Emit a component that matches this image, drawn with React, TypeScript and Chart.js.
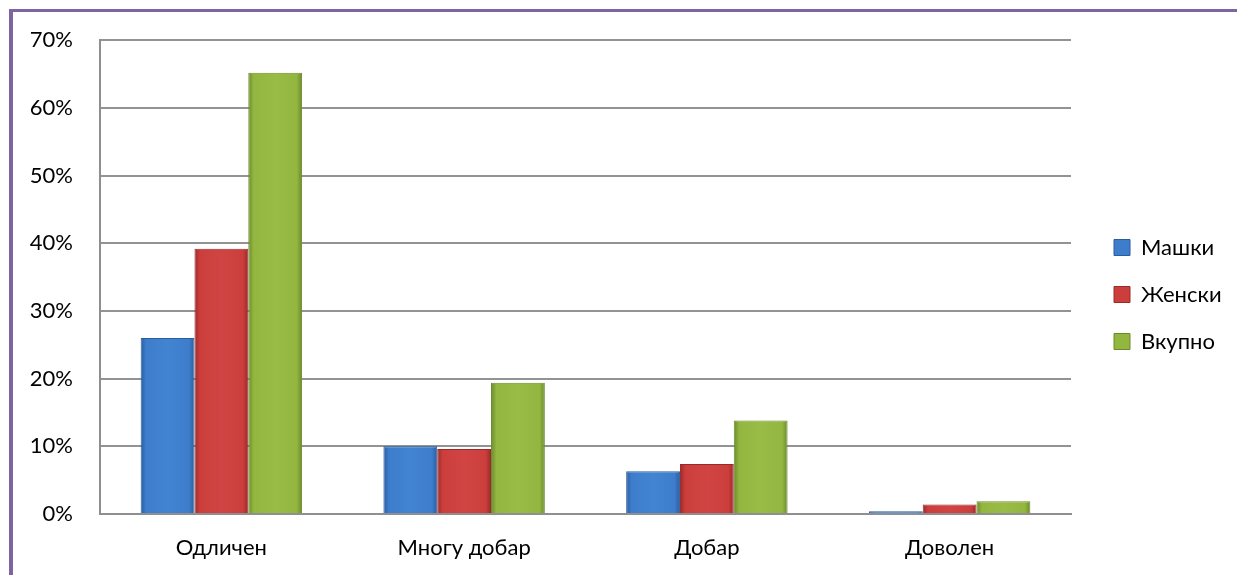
import React, { useEffect, useRef } from "react";
import { Chart, registerables } from "chart.js";

Chart.register(...registerables);

const categories = ["Одличен", "Многу добар", "Добар", "Доволен"];
const seriesNames = ["Машки", "Женски", "Вкупно"];
const maleValues = [26.0, 10.0, 6.3, 0.4];
const femaleValues = [39.2, 9.6, 7.4, 1.4];
const totalValues = [65.2, 19.4, 13.8, 1.9];
const yTicks = [0, 10, 20, 30, 40, 50, 60, 70];

const baseColors = ["#3d7dcc", "#cb3e3c", "#92b640"];
const edgeColors = ["#2a5d9e", "#9a2a29", "#6c8a2c"];
const midColors = ["#4384d2", "#d04543", "#98bc46"];

const FONT = "Lato, 'Open Sans', 'Noto Sans', sans-serif";
const CAT_PCT = 0.665;

export default function App() {
  const ref = useRef<HTMLCanvasElement | null>(null);

  useEffect(() => {
    if (!ref.current) return;
    const seriesValues = [maleValues, femaleValues, totalValues];

    const makeBg = (di: number) => (ctx: any) => {
      const chart = ctx.chart;
      const xs = chart.scales?.x;
      if (!xs || ctx.type !== "data" || ctx.dataIndex == null) return baseColors[di];
      const center = xs.getPixelForValue(ctx.dataIndex);
      const catW = xs.width / categories.length;
      const groupW = catW * CAT_PCT;
      const barW = groupW / seriesNames.length;
      const left = center - groupW / 2 + di * barW;
      const g = chart.ctx.createLinearGradient(left, 0, left + barW, 0);
      g.addColorStop(0, edgeColors[di]);
      g.addColorStop(0.1, baseColors[di]);
      g.addColorStop(0.5, midColors[di]);
      g.addColorStop(0.9, baseColors[di]);
      g.addColorStop(1, edgeColors[di]);
      return g;
    };

    const legendPatch = {
      id: "legendPatch",
      afterInit(chart: any) {
        const lg = chart.legend;
        if (!lg || lg.__patched) return;
        lg.__patched = true;
        const origFit = lg.fit;
        lg.fit = function () {
          origFit.call(this);
          this.width = 150;
        };
        const origDraw = lg.draw;
        lg.draw = function (...args: any[]) {
          const l = this.left;
          const t = this.top;
          const b = this.bottom;
          this.left = l + 18;
          this.top = t - 12;
          this.bottom = b - 12;
          origDraw.apply(this, args);
          this.left = l;
          this.top = t;
          this.bottom = b;
        };
      },
    };

    const chart = new Chart(ref.current, {
      type: "bar",
      data: {
        labels: categories,
        datasets: seriesNames.map((name, i) => ({
          label: name,
          data: seriesValues[i],
          backgroundColor: makeBg(i),
          borderColor: edgeColors[i],
          borderWidth: 1,
          categoryPercentage: CAT_PCT,
          barPercentage: 1,
        })),
      },
      options: {
        animation: false,
        responsive: false,
        maintainAspectRatio: false,
        layout: { padding: { top: 38, right: 16, bottom: 0, left: 0 } },
        plugins: {
          tooltip: { enabled: false },
          legend: {
            position: "right",
            align: "center",
            labels: {
              boxWidth: 16,
              boxHeight: 16,
              padding: 25,
              color: "#000",
              font: { family: FONT, size: 22 },
              generateLabels: (c: any) =>
                c.data.datasets.map((d: any, i: number) => ({
                  text: d.label,
                  fillStyle: baseColors[i],
                  strokeStyle: edgeColors[i],
                  lineWidth: 1,
                  hidden: false,
                  datasetIndex: i,
                  fontColor: "#000",
                })),
            },
          },
        },
        scales: {
          x: {
            grid: { display: false, drawTicks: false },
            border: { display: true, color: "#8f8f8f", width: 2 },
            ticks: {
              color: "#000",
              font: { family: FONT, size: 22 },
              padding: 21,
              maxRotation: 0,
            },
            afterFit: (s: any) => {
              s.height = 575 - 514;
            },
          },
          y: {
            min: 0,
            max: 70,
            afterBuildTicks: (s: any) => {
              s.ticks = yTicks.map((v) => ({ value: v }));
            },
            grid: { color: "#939393", lineWidth: 2, drawTicks: false },
            border: { display: true, color: "#8f8f8f", width: 2 },
            ticks: {
              color: "#000",
              font: { family: FONT, size: 22 },
              padding: 27,
              callback: (v: any) => v + "%",
            },
            afterFit: (s: any) => {
              s.width = 100;
            },
          },
        },
      },
      plugins: [legendPatch],
    });
    return () => chart.destroy();
  }, []);

  return (
    <div
      style={{
        position: "fixed",
        left: 0,
        top: 0,
        width: 1237,
        height: 575,
        overflow: "hidden",
        background: "#fff",
      }}
    >
      <div
        style={{
          position: "absolute",
          left: 9,
          top: 9,
          width: 2000,
          height: 2000,
          borderLeft: "4px solid #8064a2",
          borderTop: "3px solid #8064a2",
        }}
      />
      <canvas
        ref={ref}
        width={1237}
        height={575}
        style={{ position: "absolute", left: 0, top: 0, width: 1237, height: 575 }}
      />
    </div>
  );
}
